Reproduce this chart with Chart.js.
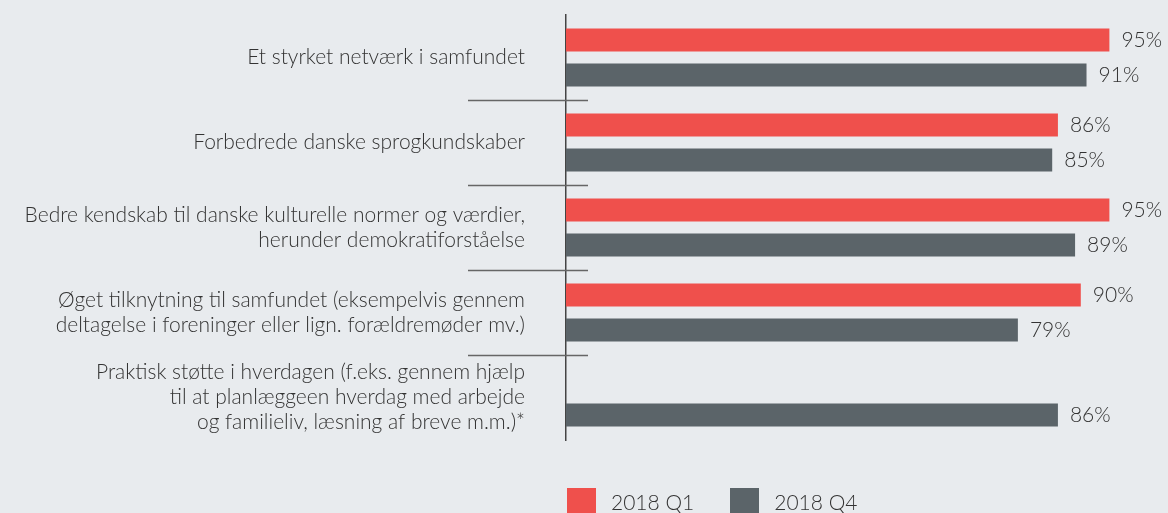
<!DOCTYPE html>
<html>
<head>
<meta charset="utf-8">
<script src="https://cdn.jsdelivr.net/npm/chart.js@4"></script>
<style>
  body { margin: 0; background: #e8ebee; font-family: Lato, "Open Sans", sans-serif; }
  #wrap { position: relative; width: 1168px; height: 513px; overflow: hidden; }
  .legend { position: absolute; top: 488px; left: 567px; display: flex; font-weight: 300; font-size: 21px; color: #333; }
  .legend .item { display: flex; align-items: flex-start; margin-right: 36px; }
  .legend .box { width: 29px; height: 29px; margin-right: 15px; }
  .legend .txt { margin-top: 1px; }
</style>
</head>
<body>
<div id="wrap">
  <canvas id="chart" width="1168" height="513"></canvas>
  <div class="legend" id="legend"></div>
</div>
<script>
const categories = [
  ['Et styrket netværk i samfundet'],
  ['Forbedrede danske sprogkundskaber'],
  ['Bedre kendskab til danske kulturelle normer og værdier,', 'herunder demokratiforståelse'],
  ['Øget tilknytning til samfundet (eksempelvis gennem', 'deltagelse i foreninger eller lign. forældremøder mv.)'],
  ['Praktisk støtte i hverdagen (f.eks. gennem hjælp', 'til at planlæggeen hverdag med arbejde', 'og familieliv, læsning af breve m.m.)*']
];
const seriesNames = ['2018 Q1', '2018 Q4'];
const q1Values = [95, 86, 95, 90, null];
const q4Values = [91, 85, 89, 79, 86];
const colors = ['#ef504c', '#5b6469'];

document.addEventListener('DOMContentLoaded', function () {
  // separators between categories + value labels
  const extras = {
    id: 'extras',
    afterDatasetsDraw(chart) {
      const ctx = chart.ctx;
      const y = chart.scales.y;
      ctx.save();
      ctx.strokeStyle = '#666';
      ctx.lineWidth = 1.5;
      for (let i = 1; i < categories.length; i++) {
        const py = Math.round((y.getPixelForValue(i - 1) + y.getPixelForValue(i)) / 2) + 0.5;
        ctx.beginPath();
        ctx.moveTo(chart.chartArea.left - 98, py);
        ctx.lineTo(chart.chartArea.left + 22, py);
        ctx.stroke();
      }
      ctx.fillStyle = '#333';
      ctx.font = '300 21px Lato, "Open Sans", sans-serif';
      ctx.textBaseline = 'middle';
      ctx.textAlign = 'left';
      chart.data.datasets.forEach((ds, di) => {
        chart.getDatasetMeta(di).data.forEach((bar, i) => {
          const v = ds.data[i];
          if (v === null) return;
          ctx.fillText(v + '%', bar.x + 12, bar.y);
        });
      });
      ctx.restore();
    }
  };

  new Chart(document.getElementById('chart'), {
    type: 'bar',
    data: {
      labels: categories,
      datasets: [
        { label: seriesNames[0], data: q1Values, backgroundColor: colors[0] },
        { label: seriesNames[1], data: q4Values, backgroundColor: colors[1] }
      ]
    },
    options: {
      responsive: false,
      animation: false,
      indexAxis: 'y',
      categoryPercentage: 0.82,
      barPercentage: 0.66,
      layout: { padding: { top: 15, bottom: 73, right: 30, left: 0 } },
      plugins: { legend: { display: false }, tooltip: { enabled: false } },
      scales: {
        x: { display: false, min: 0, max: 100 },
        y: {
          afterFit: s => { s.width = 566; s.paddingTop = 0; s.paddingBottom = 0; },
          grid: { display: false, drawTicks: false },
          border: { display: true, color: '#444', width: 1.5 },
          ticks: {
            padding: 41,
            color: '#333',
            font: { family: 'Lato, "Open Sans", sans-serif', size: 21, weight: '300', lineHeight: 1.2 }
          }
        }
      }
    },
    plugins: [extras]
  });

  const legend = document.getElementById('legend');
  seriesNames.forEach((name, i) => {
    const item = document.createElement('div');
    item.className = 'item';
    item.innerHTML = '<span class="box" style="background:' + colors[i] + '"></span><span class="txt">' + name + '</span>';
    legend.appendChild(item);
  });
});
</script>
</body>
</html>
